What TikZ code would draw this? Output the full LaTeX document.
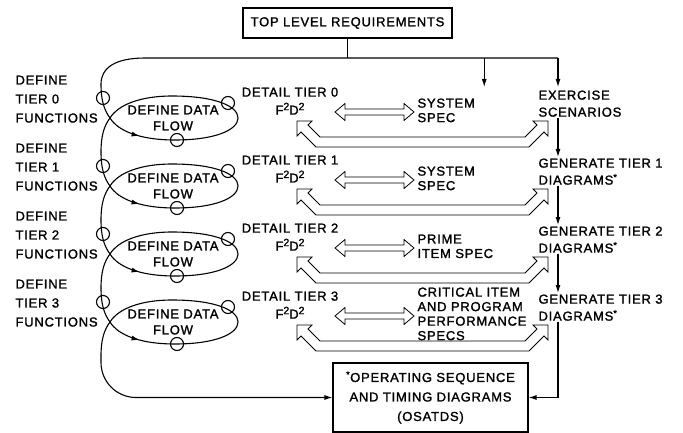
\documentclass[tikz,border=0pt]{standalone}
\usepackage{fontspec}
\setmainfont{Liberation Sans}[LetterSpace=6, FakeBold=1.5]
\usetikzlibrary{arrows.meta,decorations.markings}

\newcommand{\upsq}{\raisebox{4.5pt}{\fontsize{10.5}{10.5}\selectfont 2}}
\tikzset{
  lbl/.style={inner sep=0pt, align=left, font=\fontsize{13}{19}\selectfont},
  box/.style={draw, inner sep=0pt},
  arr/.style={-{Latex[length=8pt,width=5pt]}},
  hollow/.style={draw, line width=0.8pt, fill=white},
  loopline/.style={postaction={decorate},
    decoration={markings, mark=at position 0.2 with {\arrow{Latex[length=8pt,width=5pt]}}}},
}

\begin{document}
\begin{tikzpicture}[x=1pt, y=-1pt, line width=1.1pt]
\useasboundingbox (0,0) rectangle (683,433);
\coordinate (rx) at (558,0);
\coordinate (bus) at (0,58);

\node[box, minimum width=209, minimum height=30, font=\fontsize{13}{19}\selectfont] (top) at (347.5,23) {TOP LEVEL REQUIREMENTS};

% the four tiers
\foreach \c [count=\k from 0] in {118,186,254,322} {
  \node[lbl, anchor=north west] (def\k) at (15,\c-43) {DEFINE\\TIER \k\\FUNCTIONS};
  \node[lbl, align=center, font=\fontsize{13}{16}\selectfont] (flow\k) at (173,\c) {DEFINE DATA\\FLOW};
  \node[lbl, align=center, anchor=north, font=\fontsize{13}{18}\selectfont] (det\k) at (290,\c-31) {DETAIL TIER \k\\F\upsq D\upsq};
  % loop round the data flow
  \draw[loopline] (101,\c-34) .. controls (101,\c-18) and (104,\c-8) .. (110,\c)
    .. controls (118,\c+13) and (140,\c+22) .. (175,\c+22)
    .. controls (215,\c+22) and (238,\c+12) .. (238,\c)
    .. controls (238,\c-12) and (215,\c-22) .. (172,\c-22)
    .. controls (140,\c-22) and (118,\c-13) .. (110,\c)
    .. controls (104,\c+8) and (101,\c+18) .. (101,\c+34);
  \draw (103,\c-20) circle[radius=6.5];
  \draw (228,\c-15) circle[radius=6.5];
  \draw (177,\c+22) circle[radius=6.5];
  % hollow arrows
  \draw[hollow] (335,\c-6) -- (345,\c-14.5) -- (345,\c-9) -- (404,\c-9) -- (404,\c-14.5)
    -- (414,\c-6) -- (404,\c+2.5) -- (404,\c-3) -- (345,\c-3) -- (345,\c+2.5) -- cycle;
  \draw[hollow] (297,\c+3) -- (312,\c+3) -- (308,\c+7) -- (320,\c+19) -- (525,\c+19)
    -- (537,\c+7) -- (533,\c+3) -- (548,\c+3) -- (548,\c+18) -- (544,\c+14)
    -- (529,\c+29) -- (316,\c+29) -- (301,\c+14) -- (297,\c+18) -- cycle;
}

\node[lbl, anchor=north west, font=\fontsize{13}{14.5}\selectfont] (spec0) at (417,98) {SYSTEM\\SPEC};
\node[lbl, anchor=north west, font=\fontsize{13}{14.5}\selectfont] (spec1) at (417,166) {SYSTEM\\SPEC};
\node[lbl, anchor=north west, font=\fontsize{13}{14.5}\selectfont] (spec2) at (417,234) {PRIME\\ITEM SPEC};
\node[lbl, anchor=north west, font=\fontsize{13}{14.5}\selectfont] (spec3) at (417,287) {CRITICAL ITEM\\AND PROGRAM\\PERFORMANCE\\SPECS};

\node[lbl, anchor=north west, font=\fontsize{13}{17}\selectfont] (ex) at (538,90) {EXERCISE\\SCENARIOS};
\node[lbl, anchor=north west, font=\fontsize{13}{17}\selectfont] (gen1) at (538,158) {GENERATE TIER 1\\DIAGRAMS\textsuperscript{*}};
\node[lbl, anchor=north west, font=\fontsize{13}{17}\selectfont] (gen2) at (538,226) {GENERATE TIER 2\\DIAGRAMS\textsuperscript{*}};
\node[lbl, anchor=north west, font=\fontsize{13}{17}\selectfont] (gen3) at (538,294) {GENERATE TIER 3\\DIAGRAMS\textsuperscript{*}};

\node[box, minimum width=195, minimum height=69, align=center, font=\fontsize{13}{19.5}\selectfont] (osatd) at (430.5,397.5) {\textsuperscript{*}OPERATING SEQUENCE\\AND TIMING DIAGRAMS\\(OSATDS)};

% requirements feed
\draw (top.south) -- (top.south |- bus);
\draw (rx |- bus) -- (145,58) .. controls (115,58) and (101,68) .. (101,84);
\draw[arr, shorten >=11pt] (spec0.north |- bus) ++(38,0) -- ++(0,40);
\draw[arr, shorten >=3pt] (rx |- bus) -- (rx |- ex.north);

% right column
\draw[arr, shorten <=1pt, shorten >=1pt] (ex.south -| rx) -- (gen1.north -| rx);
\draw[arr, shorten <=1pt, shorten >=1pt] (gen1.south -| rx) -- (gen2.north -| rx);
\draw[arr, shorten <=1pt, shorten >=1pt] (gen2.south -| rx) -- (gen3.north -| rx);
\draw[arr, shorten <=1pt] (gen3.south -| rx) |- (osatd.east);

% into the timing diagrams
\draw[arr, rounded corners=35] (101,356) |- (osatd.west);
\end{tikzpicture}
\end{document}
